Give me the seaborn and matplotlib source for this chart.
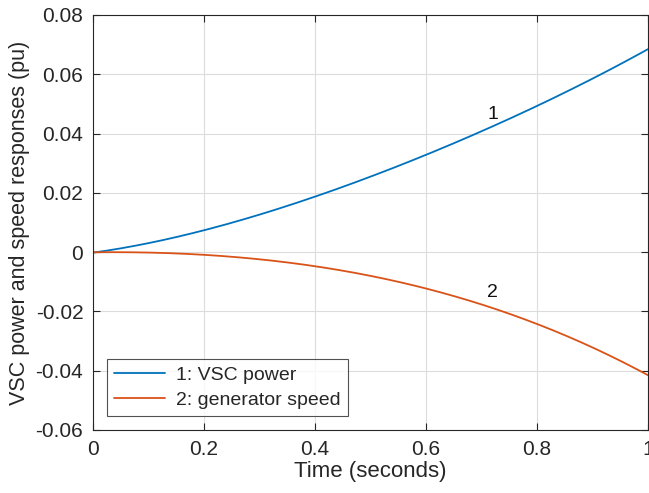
import numpy as np
import pandas as pd
import seaborn as sns
import matplotlib.pyplot as plt

# values
time_s = [0.0, 0.05, 0.1, 0.2, 0.3, 0.4, 0.5, 0.6, 0.7, 0.8, 0.9, 1.0]
vsc_power = [0.0, 0.001, 0.003, 0.0075, 0.0129, 0.0185, 0.0253, 0.033, 0.0408, 0.0493, 0.0585, 0.0685]
gen_speed = [0.0, -0.00005, -0.0002, -0.0009, -0.0025, -0.0046, -0.0079, -0.0124, -0.0178, -0.0242, -0.032, -0.0416]
series_names = ['1: VSC power', '2: generator speed']
x_ticks = [0, 0.2, 0.4, 0.6, 0.8, 1]
y_ticks = [-0.06, -0.04, -0.02, 0, 0.02, 0.04, 0.06, 0.08]
y_ticklabels = ['-0.06', '-0.04', '-0.02', '0', '0.02', '0.04', '0.06', '0.08']
x_ticklabels = ['0', '0.2', '0.4', '0.6', '0.8', '1']

# smooth curve through the read points
def dense(x, y, n=200):
    xs = np.linspace(x[0], x[-1], n)
    coef = np.polyfit(x, y, 4)
    return xs, np.polyval(coef, xs)

rows = []
for name, vals in zip(series_names, [vsc_power, gen_speed]):
    xs, ys = dense(time_s, vals)
    rows.append(pd.DataFrame({'t': xs, 'v': ys, 'series': name}))
df = pd.concat(rows, ignore_index=True)

sns.set_style('white')
plt.rcParams['font.family'] = ['Liberation Sans', 'DejaVu Sans']

fig = plt.figure(figsize=(6.49, 4.93), dpi=100)
ax = fig.add_axes([0.1433, 0.1278, 0.8552, 0.8418])

sns.lineplot(data=df, x='t', y='v', hue='series',
             palette=['#0072BD', '#D95319'], linewidth=1.3, ax=ax)

ax.set_xlim(0, 1)
ax.set_ylim(-0.06, 0.08)
ax.set_xticks(x_ticks)
ax.set_xticklabels(x_ticklabels)
ax.set_yticks(y_ticks)
ax.set_yticklabels(y_ticklabels)
ax.grid(True, color='#dcdcdc', linewidth=0.8)
ax.tick_params(direction='in', length=5, width=0.8, color='#262626',
               labelsize=15, labelcolor='#262626', top=True, right=True,
               bottom=True, left=True, pad=7)
for sp in ax.spines.values():
    sp.set_visible(True)
    sp.set_color('#262626')
    sp.set_linewidth(0.8)

ax.set_xlabel('Time (seconds)', fontsize=16, color='#262626', labelpad=2)
ax.set_ylabel('VSC power and speed responses (pu)', fontsize=15.5, color='#262626', labelpad=4)

ax.text(0.72, 0.0465, '1', fontsize=14, ha='center', va='center', color='#111111')
ax.text(0.72, -0.0137, '2', fontsize=14, ha='center', va='center', color='#111111')

leg = ax.legend(loc='lower left', bbox_to_anchor=(0.026, 0.034), fontsize=14,
                frameon=True, fancybox=False, borderaxespad=0, handlelength=2.6,
                handletextpad=0.6, borderpad=0.35, labelspacing=0.4)
leg.get_frame().set_edgecolor('#262626')
leg.get_frame().set_linewidth(0.8)
for line in leg.get_lines():
    line.set_linewidth(1.3)

fig.savefig('out.png', dpi=100)
